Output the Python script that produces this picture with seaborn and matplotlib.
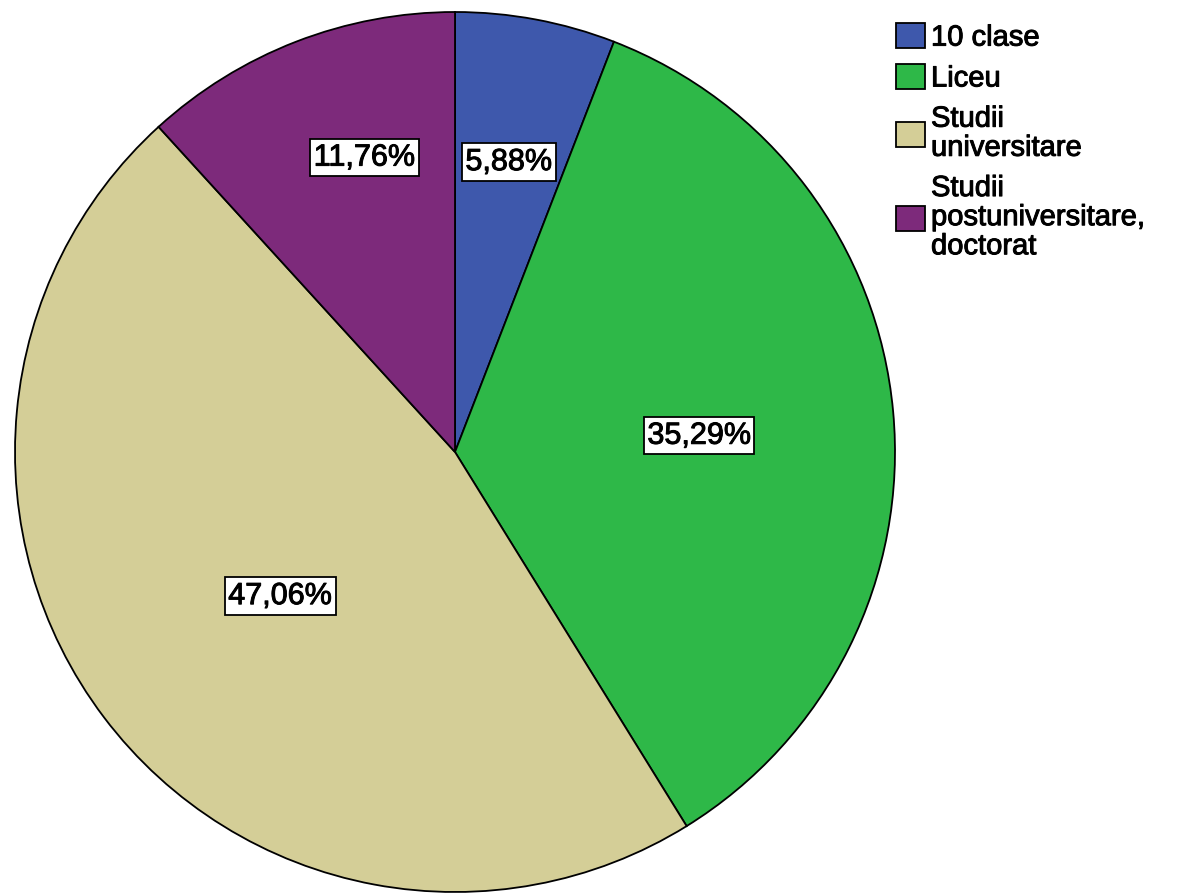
import numpy as np
import matplotlib
matplotlib.use("Agg")
import matplotlib.pyplot as plt
import matplotlib.patheffects as pe
import seaborn as sns

# education level shares (counts out of 17)
categories = ["10 clase", "Liceu", "Studii\nuniversitare", "Studii\npostuniversitare,\ndoctorat"]
counts = [1, 6, 8, 2]
pct_labels = ["5,88%", "35,29%", "47,06%", "11,76%"]
colors = ["#3E58AC", "#2EB848", "#D4CE97", "#7D2A7B"]

# label placement: (angle clockwise from top in degrees, radius fraction)
label_pos = [(10.5, 0.67), (86.2, 0.556), (230.5, 0.515), (342.9, 0.70)]

sns.set_theme(style="white")
plt.rcParams["font.family"] = ["Liberation Sans", "DejaVu Sans"]
plt.rcParams["text.color"] = "black"

heavy = [pe.withStroke(linewidth=0.7, foreground="black")]

fig = plt.figure(figsize=(11.85, 8.95), dpi=100)
R, cx, cy = 440, 455, 453
ax = fig.add_axes([(cx - R) / 1185, (895 - cy - R) / 895, 2 * R / 1185, 2 * R / 895])

wedges, _ = ax.pie(counts, colors=colors, startangle=90, counterclock=False,
                   wedgeprops=dict(edgecolor="black", linewidth=1.3))
ax.set_xlim(-1, 1)
ax.set_ylim(-1, 1)
ax.set_aspect("equal")
ax.axis("off")

for lab, (ang, r) in zip(pct_labels, label_pos):
    t = np.deg2rad(ang)
    ax.text(r * np.sin(t), r * np.cos(t), lab, ha="center", va="center", fontsize=22,
            color="black", path_effects=heavy,
            bbox=dict(boxstyle="square,pad=0.12", fc="white", ec="black", lw=1.3))

leg = fig.legend(wedges, categories, loc="upper left", bbox_to_anchor=(896 / 1185, 1 - 24 / 895),
                 frameon=False, fontsize=21, handlelength=1.0, handleheight=0.95,
                 handletextpad=0.2, labelspacing=0.42, borderaxespad=0, borderpad=0)
for txt in leg.get_texts():
    txt.set_linespacing(1.05)
    txt.set_color("black")
    txt.set_path_effects(heavy)
for h in leg.legend_handles:
    h.set_linewidth(1.3)

fig.savefig("out.png", dpi=100)
